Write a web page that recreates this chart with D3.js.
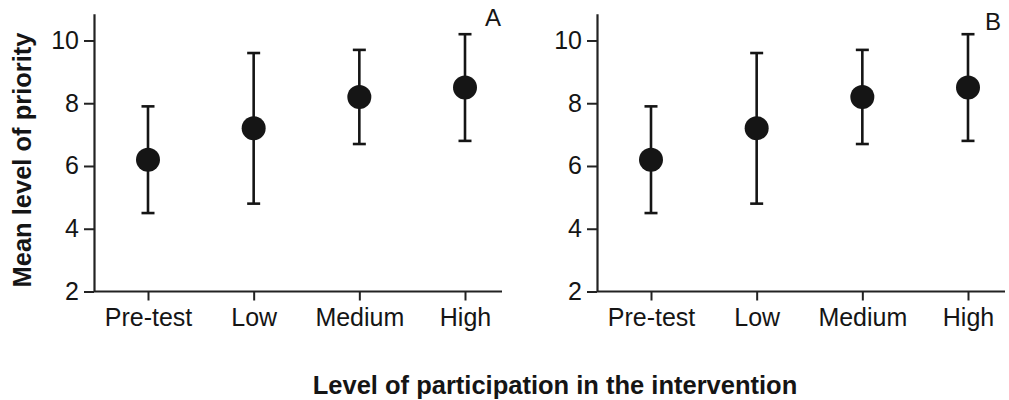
<!DOCTYPE html>
<html>
<head>
<meta charset="utf-8">
<script src="https://cdn.jsdelivr.net/npm/d3@7"></script>
<style>
  body { margin: 0; background: #fff; }
  svg { font-family: "Liberation Sans", Arial, sans-serif; }
</style>
</head>
<body>
<div id="chart"></div>
<script>
// groups along the x axis
var groups = ["Pre-test", "Low", "Medium", "High"];

// panel A values (mean and error bar ends)
var meanA = [6.2, 7.2, 8.2, 8.5];
var lowA  = [4.5, 4.8, 6.7, 6.8];
var highA = [7.9, 9.6, 9.7, 10.2];

// panel B values
var meanB = [6.2, 7.2, 8.2, 8.5];
var lowB  = [4.5, 4.8, 6.7, 6.8];
var highB = [7.9, 9.6, 9.7, 10.2];

var yTicks = [2, 4, 6, 8, 10];
var panelLabels = ["A", "B"];

var W = 1009, H = 400;
var svg = d3.select("#chart").append("svg")
  .attr("width", W).attr("height", H);

var ink = "#151515";

// shared scales, panels only differ by left offset
var y = d3.scaleLinear().domain([2, 10.85]).range([291.5, 13.8]);
var x = d3.scalePoint().domain(groups).range([54, 371]);
var axisLen = 408;

var panels = [
  { left: 94,  mean: meanA, lo: lowA, hi: highA, label: panelLabels[0], lx: 485, ly: 26 },
  { left: 597, mean: meanB, lo: lowB, hi: highB, label: panelLabels[1], lx: 985, ly: 30 }
];

panels.forEach(function(p) {
  var g = svg.append("g").attr("transform", "translate(" + p.left + ",0)");

  // y axis
  var ya = g.append("g")
    .call(d3.axisLeft(y).tickValues(yTicks).tickSize(10).tickSizeOuter(0).tickPadding(5));
  // x axis
  var xa = g.append("g").attr("transform", "translate(0," + y(2) + ")")
    .call(d3.axisBottom(x).tickSize(9).tickSizeOuter(0).tickPadding(8));
  xa.select(".domain").attr("d", "M0,0H" + axisLen);

  [ya, xa].forEach(function(a) {
    a.selectAll("path, line").attr("stroke", "#222").attr("stroke-width", 2);
    a.selectAll("text").attr("fill", ink).style("font-size", "25px");
  });
  ya.select(".domain").attr("stroke-width", 2.2);
  xa.select(".domain").attr("stroke-width", 2.2);

  var data = groups.map(function(k, i) {
    return { k: k, m: p.mean[i], lo: p.lo[i], hi: p.hi[i] };
  });

  // error bars
  var eb = g.selectAll(".eb").data(data).enter().append("g").attr("class", "eb");
  eb.append("line")
    .attr("x1", function(d) { return x(d.k); }).attr("x2", function(d) { return x(d.k); })
    .attr("y1", function(d) { return y(d.lo); }).attr("y2", function(d) { return y(d.hi); })
    .attr("stroke", ink).attr("stroke-width", 2.6);
  ["lo", "hi"].forEach(function(end) {
    eb.append("line")
      .attr("x1", function(d) { return x(d.k) - 6.5; }).attr("x2", function(d) { return x(d.k) + 6.5; })
      .attr("y1", function(d) { return y(d[end]); }).attr("y2", function(d) { return y(d[end]); })
      .attr("stroke", ink).attr("stroke-width", 2.6);
  });

  // means
  g.selectAll("circle").data(data).enter().append("circle")
    .attr("cx", function(d) { return x(d.k); })
    .attr("cy", function(d) { return y(d.m); })
    .attr("r", 12)
    .attr("fill", ink);

  svg.append("text")
    .attr("x", p.lx).attr("y", p.ly)
    .attr("fill", ink).style("font-size", "24px")
    .text(p.label);
});

// axis titles
svg.append("text")
  .attr("transform", "translate(31,160) rotate(-90)")
  .attr("text-anchor", "middle")
  .attr("fill", ink)
  .style("font-size", "25.5px").style("font-weight", "bold")
  .text("Mean level of priority");

svg.append("text")
  .attr("x", 555).attr("y", 394)
  .attr("text-anchor", "middle")
  .attr("fill", ink)
  .style("font-size", "25.5px").style("font-weight", "bold")
  .text("Level of participation in the intervention");
</script>
</body>
</html>
